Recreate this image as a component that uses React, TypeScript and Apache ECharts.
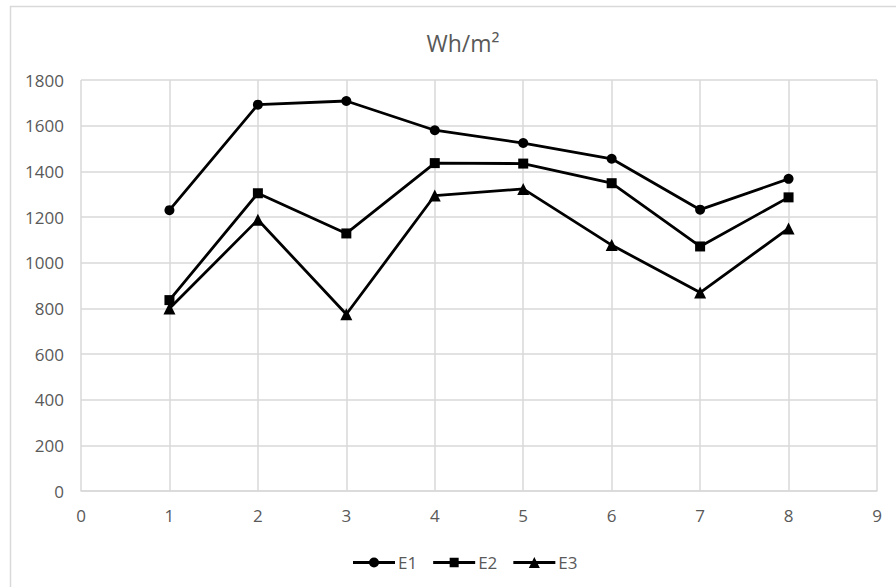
import React, { useEffect, useRef } from "react";
import * as echarts from "echarts";

const xValues = [1, 2, 3, 4, 5, 6, 7, 8];
const e1 = [1230, 1692, 1708, 1580, 1524, 1455, 1232, 1367];
const e2 = [836, 1304, 1128, 1436, 1434, 1348, 1071, 1286];
const e3 = [799, 1188, 774, 1294, 1323, 1077, 869, 1150];
const seriesNames = ["E1", "E2", "E3"];
const symbols = ["circle", "rect", "triangle"];

const FONT = "'Open Sans', sans-serif";

const LINE = "M0,4.6 L42,4.6 L42,7.4 L0,7.4 Z ";
const legendIcons = [
  "path://" + LINE + "M16,6 A5,5 0 1,1 26,6 A5,5 0 1,1 16,6 Z",
  "path://" + LINE + "M16.5,1.3 L25.5,1.3 L25.5,10.7 L16.5,10.7 Z",
  "path://" + LINE + "M21,0.5 L26.5,11.5 L15.5,11.5 Z",
];

export default function App() {
  const ref = useRef<HTMLDivElement>(null);
  useEffect(() => {
    if (!ref.current) return;
    const chart = echarts.init(ref.current, undefined, { renderer: "svg" });
    const data = [e1, e2, e3];
    chart.setOption({
      animation: false,
      backgroundColor: "#ffffff",
      title: {
        text: "Wh/m²",
        left: 458,
        top: 26,
        textAlign: "center",
        textStyle: { color: "#595959", fontSize: 23, fontWeight: "normal", fontFamily: FONT },
      },
      graphic: [
        {
          type: "rect",
          shape: { x: 10.5, y: 6.5, width: 900, height: 600 },
          style: { fill: "none", stroke: "#d9d9d9", lineWidth: 1.5 },
          silent: true,
        },
      ],
      legend: {
        top: 549,
        left: 348,
        itemWidth: 42,
        itemHeight: 12,
        itemGap: 16,
        textStyle: { color: "#595959", fontSize: 17, fontFamily: FONT, padding: [0, 0, 0, -2] },
        data: seriesNames.map((n, i) => ({ name: n, icon: legendIcons[i] })),
      },
      grid: { left: 81, right: 19, top: 80, bottom: 96, containLabel: false },
      xAxis: {
        type: "value",
        min: 0,
        max: 9,
        interval: 1,
        axisLine: { show: true, lineStyle: { color: "#d9d9d9", width: 1.5 } },
        axisTick: { show: false },
        splitLine: { show: true, lineStyle: { color: "#d9d9d9", width: 1.5 } },
        axisLabel: { color: "#595959", fontSize: 17, fontFamily: FONT, margin: 16 },
      },
      yAxis: {
        type: "value",
        min: 0,
        max: 1800,
        interval: 200,
        axisLine: { show: false },
        axisTick: { show: false },
        splitLine: { show: true, lineStyle: { color: "#d9d9d9", width: 1.5 } },
        axisLabel: {
          color: "#595959",
          fontSize: 17,
          fontFamily: FONT,
          margin: 17,
          formatter: (v: number) => String(v),
        },
      },
      series: seriesNames.map((n, i) => ({
        name: n,
        type: "line",
        data: xValues.map((x, j) => [x, data[i][j]]),
        symbol: symbols[i],
        symbolSize: i === 2 ? 12 : 10,
        showAllSymbol: true,
        lineStyle: { color: "#000000", width: 2.8 },
        itemStyle: { color: "#000000" },
        emphasis: { disabled: true },
      })),
    });
    return () => chart.dispose();
  }, []);
  return (
    <div
      ref={ref}
      style={{ position: "fixed", left: 0, top: 0, width: 896, height: 587 }}
    />
  );
}
